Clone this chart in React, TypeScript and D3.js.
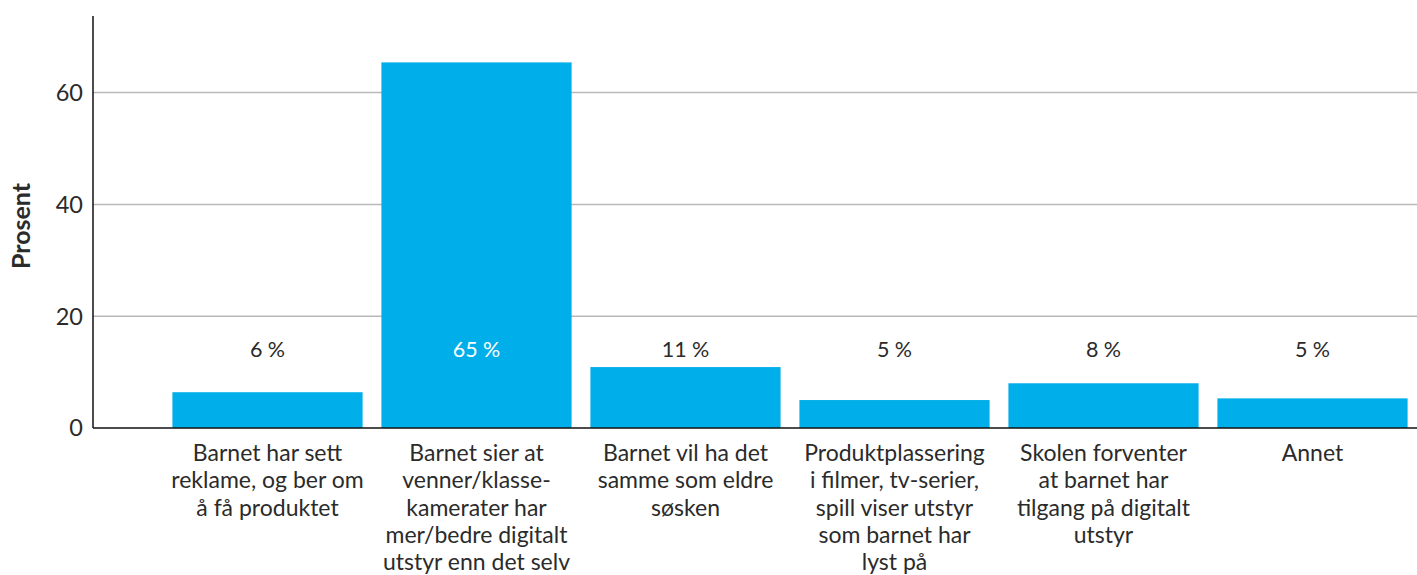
import React from "react";
import * as d3 from "d3";

const categories = [
  ["Barnet har sett", "reklame, og ber om", "å få produktet"],
  ["Barnet sier at", "venner/klasse-", "kamerater har", "mer/bedre digitalt", "utstyr enn det selv"],
  ["Barnet vil ha det", "samme som eldre", "søsken"],
  ["Produktplassering", "i filmer, tv-serier,", "spill viser utstyr", "som barnet har", "lyst på"],
  ["Skolen forventer", "at barnet har", "tilgang på digitalt", "utstyr"],
  ["Annet"],
];
const values = [6.4, 65.4, 10.9, 5.0, 8.0, 5.3];
const valueLabels = ["6 %", "65 %", "11 %", "5 %", "8 %", "5 %"];
const yTicks = [0, 20, 40, 60];

const width = 1417;
const height = 575;
const font = "Lato, 'Open Sans', sans-serif";
const textColor = "#2b2b2b";
const barColor = "#00aee9";

const App = (): JSX.Element => {
  const axisX = 93;
  const x = d3
    .scaleBand<number>()
    .domain(d3.range(values.length))
    .range([163, width])
    .paddingInner(0.09)
    .paddingOuter(0.045);
  const y = d3.scaleLinear().domain([0, 73.7]).range([428, 16]);

  return (
    <svg
      width={width}
      height={height}
      viewBox={`0 0 ${width} ${height}`}
      style={{ position: "absolute", left: 0, top: 0, fontFamily: font }}
    >
      {/* gridlines */}
      {yTicks
        .filter((t) => t > 0)
        .map((t) => (
          <line key={t} x1={axisX} x2={width} y1={y(t)} y2={y(t)} stroke="#b8b8b8" strokeWidth={1.5} />
        ))}
      {/* y tick labels */}
      {yTicks.map((t) => (
        <text key={t} x={axisX - 10} y={y(t)} dy="0.36em" textAnchor="end" fontSize={23.5} fill={textColor}>
          {t}
        </text>
      ))}
      <text
        transform={`translate(21,${(y(0) + y(73.7)) / 2 + 4}) rotate(-90)`}
        textAnchor="middle"
        dy="0.36em"
        fontSize={25}
        fontWeight="bold"
        fill={textColor}
      >
        Prosent
      </text>
      {/* bars */}
      {values.map((v, i) => (
        <rect key={i} x={x(i)} y={y(v)} width={x.bandwidth()} height={y(0) - y(v)} fill={barColor} />
      ))}
      {/* axes */}
      <line x1={axisX} x2={axisX} y1={y(73.7)} y2={y(0)} stroke="#111" strokeWidth={1.5} />
      <line x1={axisX} x2={width} y1={y(0)} y2={y(0)} stroke="#111" strokeWidth={1.5} />
      {/* value labels */}
      {valueLabels.map((l, i) => (
        <text
          key={i}
          x={(x(i) as number) + x.bandwidth() / 2}
          y={y(14)}
          dy="0.36em"
          textAnchor="middle"
          fontSize={21.5}
          fill={values[i] > 14 ? "#ffffff" : textColor}
        >
          {l}
        </text>
      ))}
      {/* category labels */}
      {categories.map((lines, i) => (
        <text key={i} textAnchor="middle" fontSize={23} fill={textColor}>
          {lines.map((line, j) => (
            <tspan key={j} x={(x(i) as number) + x.bandwidth() / 2} y={y(0) + 33 + j * 27.3}>
              {line}
            </tspan>
          ))}
        </text>
      ))}
    </svg>
  );
};

export default App;
